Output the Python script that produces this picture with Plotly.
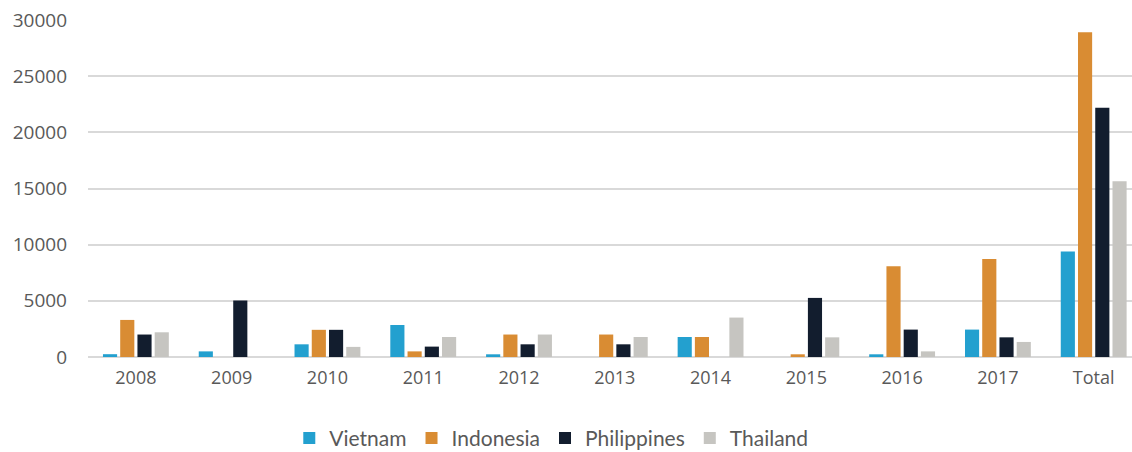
import plotly.graph_objects as go

categories = ["2008", "2009", "2010", "2011", "2012", "2013", "2014", "2015", "2016", "2017", "Total"]
vietnam = [250, 500, 1130, 2850, 240, 0, 1780, 0, 240, 2440, 9390]
indonesia = [3300, 0, 2420, 500, 2000, 2000, 1780, 240, 8080, 8730, 28900]
philippines = [2000, 5030, 2420, 925, 1130, 1130, 0, 5260, 2440, 1750, 22190]
thailand = [2200, 0, 900, 1780, 2000, 1780, 3510, 1750, 500, 1340, 15650]
y_ticks = [0, 5000, 10000, 15000, 20000, 25000, 30000]
y_tick_labels = ["0", "5000", "10000", "15000", "20000", "25000", "30000"]

series = [
    ("Vietnam", vietnam, "#23A0CF"),
    ("Indonesia", indonesia, "#D98C33"),
    ("Philippines", philippines, "#121D2E"),
    ("Thailand", thailand, "#C6C5C1"),
]

fig = go.Figure()
for name, vals, color in series:
    fig.add_trace(go.Bar(
        name=name, x=categories, y=vals,
        marker=dict(color=color, line=dict(width=0)),
    ))

fig.update_layout(
    width=1132, height=452,
    margin=dict(l=88, r=0, t=20, b=95),
    paper_bgcolor="white", plot_bgcolor="white",
    barmode="group", bargap=0.28, bargroupgap=0.18,
    font=dict(family="Open Sans", color="#595959", size=18),
    xaxis=dict(
        type="category", range=[-0.5, 10.4],
        showgrid=False, zeroline=False, showline=False,
        ticks="", tickfont=dict(family="Open Sans", size=18, color="#595959"),
        ticklabelstandoff=8,
    ),
    yaxis=dict(
        range=[0, 30000], tickvals=y_ticks, ticktext=y_tick_labels,
        showgrid=True, gridcolor="#D9D9D9", gridwidth=2,
        zeroline=True, zerolinecolor="#D9D9D9", zerolinewidth=2,
        ticks="", tickfont=dict(family="Open Sans", size=19, color="#595959"),
        ticklabelstandoff=20,
    ),
    legend=dict(
        orientation="h", xref="container", x=0.487, xanchor="center",
        yref="container", y=0.03, yanchor="middle",
        font=dict(family="Lato", size=21, color="#595959"),
        itemwidth=30, tracegroupgap=0,
    ),
)

fig.write_html("out.html")
